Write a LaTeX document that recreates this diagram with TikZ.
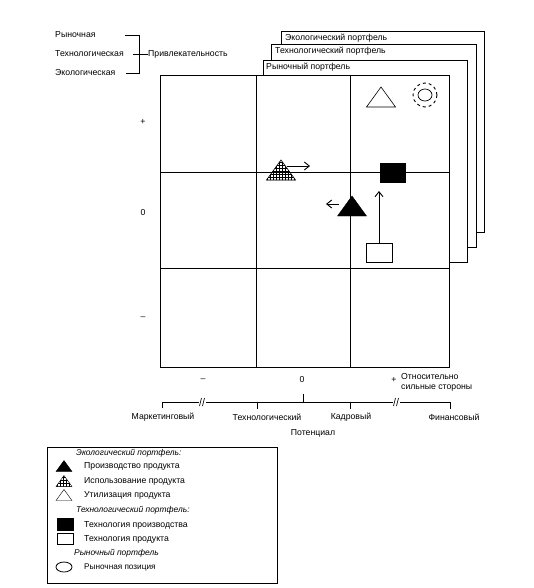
\documentclass[tikz,border=0pt]{standalone}
\usepackage{fontspec}
\setmainfont{Liberation Sans}
\usetikzlibrary{positioning,arrows.meta,calc,patterns}

\begin{document}
\begin{tikzpicture}[x=1pt,y=-1pt,
      txt/.style={font=\fontsize{8.7}{10}\selectfont,inner sep=0pt},
      ttl/.style={font=\fontsize{8.4}{10}\selectfont\itshape,inner sep=0pt,anchor=west},
      sheet/.style={draw,fill=white,line width=0.9pt},
      gridline/.style={line width=0.7pt},
      mv/.style={-{Straight Barb[length=5pt,width=8pt]},line width=0.9pt},
      tri/.pic={\draw[pic actions] (-14.5,10) -- (0,-10) -- (14.5,10) -- cycle;}]
    \useasboundingbox (0,0) rectangle (533,588);
    % attractiveness
    \node[txt,anchor=west] (mktA)  at (55,35) {Рыночная};
    \node[txt,anchor=west] (techA) at (55,54) {Технологическая};
    \node[txt,anchor=west] (ecoA)  at (55,73) {Экологическая};
    \node[txt,anchor=west] (attr)  at (148,54) {Привлекательность};
    \draw[line width=0.7pt] (125,35) -- (139,35) -- (139,73) -- (126,73);
    \draw[line width=0.7pt] (133,54) -- (attr.west);
    % portfolio sheets
    \draw[sheet] (281,31) rectangle (484,232);
    \node[txt,anchor=west] (ecoP) at (285,38) {Экологический портфель};
    \draw[sheet] (271,44) rectangle (476,247);
    \node[txt,anchor=west] (techP) at (275,51) {Технологический портфель};
    \draw[sheet] (263,60) rectangle (467,262);
    \node[txt,anchor=west] (mktP) at (266,67) {Рыночный портфель};
    % matrix
    \draw[sheet] (160,75) rectangle (449,367);
    \foreach \x in {256,350} \draw[gridline] (\x,75) -- (\x,367);
    \foreach \y in {172,268} \draw[gridline] (160,\y) -- (449,\y);
    \foreach \y/\s [count=\i] in {122/+,213/0,318/--}
      \node[txt] (row\i) at (143,\y) {\s};
    % positions
    \pic[draw,line width=0.6pt] at (381,97) {tri};
    \draw[dashed,line width=0.9pt] (425,95) circle (12);
    \draw[line width=0.7pt] (425,95) ellipse (7 and 6);
    \pic[draw,pattern=grid,line width=0.6pt] at (281,170) {tri};
    \coordinate (useA) at (287,166);
    \coordinate (useB) at (310,166);
    \draw[mv] (useA) -- (useB);
    \pic[draw,fill=black] at (352,206) {tri};
    \coordinate (prodA) at (339,204);
    \coordinate (prodB) at (326,204);
    \draw[mv] (prodA) -- (prodB);
    \node[draw,fill=black,minimum width=25pt,minimum height=19pt,inner sep=0pt] (techProd) at (392.5,172.5) {};
    \node[draw,fill=white,line width=0.8pt,minimum width=26pt,minimum height=19pt,inner sep=0pt] (techItem) at (379,252.5) {};
    \coordinate (techUp) at (379,191);
    \draw[mv] (techItem.north) -- (techUp);
    % potential axis
    \foreach \x/\s [count=\i] in {203/--,302/0,394/+}
      \node[txt] (col\i) at (\x,380) {\s};
    \node[txt,anchor=west,align=left] (strong) at (401,382) {Относительно\\сильные стороны};
    \draw[line width=0.7pt] (162,408) -- (162,402) -- (450,402) -- (450,409);
    \foreach \x in {257,350} \draw[line width=0.7pt] (\x,402) -- (\x,409);
    \draw[line width=0.7pt] (303,402) -- (303,394);
    \foreach \x in {202,396}
      {\fill[white] (\x-3.5,399) rectangle (\x+3.5,405);
       \draw[line width=0.7pt] (\x-2.5,406) -- (\x-0.5,398) (\x+0.5,406) -- (\x+2.5,398);}
    \foreach \x/\s [count=\i] in {163/Маркетинговый,267/Технологический,351/Кадровый,454/Финансовый}
      \node[txt] (pot\i) at (\x,417) {\s};
    \node[txt] (potential) at (313,433) {Потенциал};
    % legend
    \draw[line width=0.9pt] (47,447) rectangle (277,583);
    \node[ttl] (lgEco) at (76,453) {Экологический портфель:};
    \pic[draw,fill=black,scale=0.55] at (64,466) {tri};
    \node[txt,anchor=west] (lg1) at (84,466) {Производство продукта};
    \pic[draw,pattern=grid,scale=0.55] at (64,481) {tri};
    \node[txt,anchor=west] (lg2) at (84,481) {Использование продукта};
    \pic[draw,scale=0.55] at (64,495) {tri};
    \node[txt,anchor=west] (lg3) at (84,495) {Утилизация продукта};
    \node[ttl] (lgTech) at (76,510) {Технологический портфель:};
    \node[draw,fill=black,minimum width=16pt,minimum height=12pt,inner sep=0pt] (lgSq1) at (65,524) {};
    \node[txt,anchor=west] (lg4) at (84,525) {Технология производства};
    \node[draw,fill=white,line width=0.8pt,minimum width=16pt,minimum height=11pt,inner sep=0pt] (lgSq2) at (65,538.5) {};
    \node[txt,anchor=west] (lg5) at (84,539) {Технология продукта};
    \node[ttl] (lgMkt) at (74,553) {Рыночный портфель};
    \draw[line width=0.8pt] (64,567) ellipse (8 and 5);
    \node[txt,anchor=west,font=\fontsize{8.2}{9}\selectfont] (lg6) at (84,567) {Рыночная позиция};
  \end{tikzpicture}
\end{document}
